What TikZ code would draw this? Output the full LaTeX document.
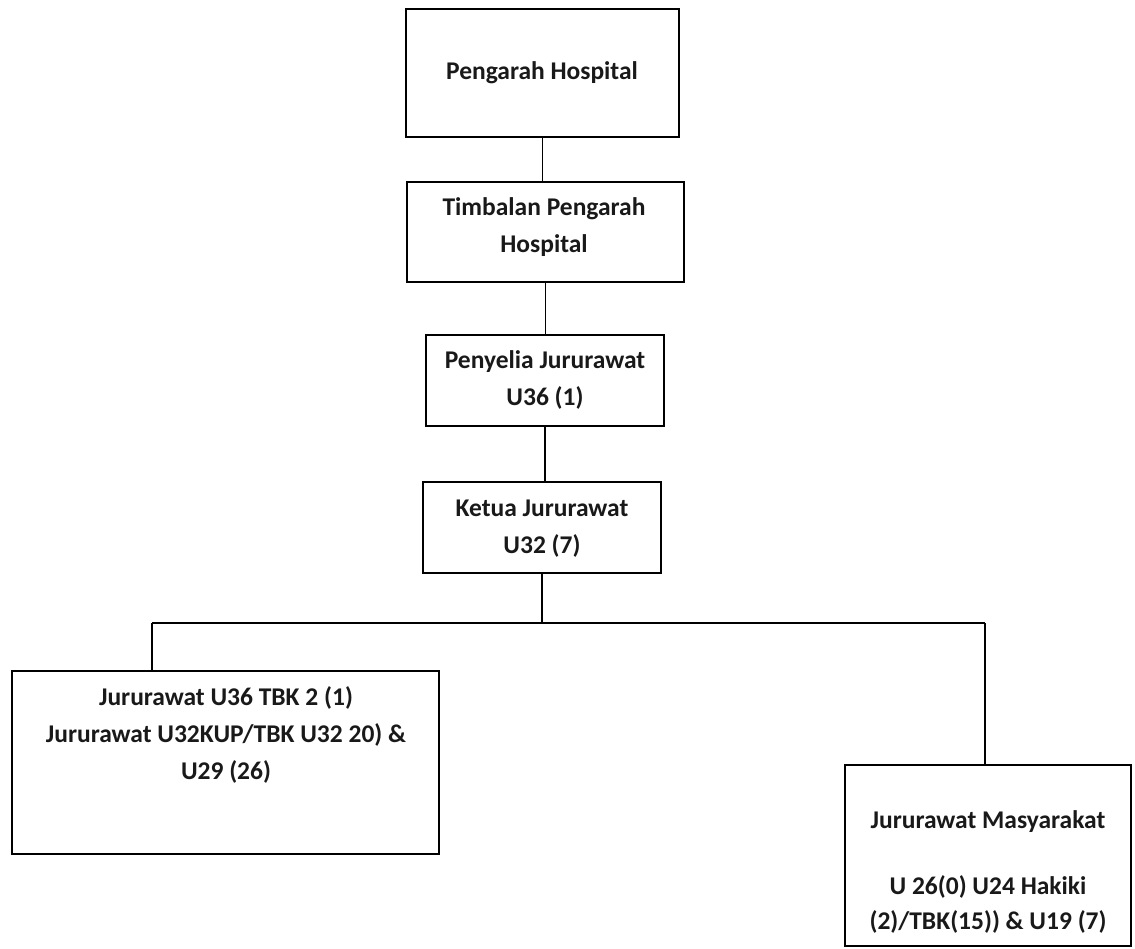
\documentclass[tikz,border=0pt]{standalone}
\usepackage{fontspec}
\setmainfont{Carlito}
\begin{document}
\begin{tikzpicture}[x=1pt,y=-1pt,
  box/.style={draw=black, line width=1.7pt, inner sep=0pt, rectangle},
  txt/.style={align=center, inner sep=0pt, font=\fontsize{25.5}{37}\selectfont\bfseries, text=black!90},
  con/.style={draw=black, line width=1.7pt}]
\useasboundingbox (0,0) rectangle (1135,948);
% boxes
\node[box, minimum width=273pt, minimum height=128pt] (b1) at (542.5,73) {};
\node[box, minimum width=277pt, minimum height=100pt] (b2) at (545.5,232) {};
\node[box, minimum width=238pt, minimum height=91pt] (b3) at (545,380.5) {};
\node[box, minimum width=238pt, minimum height=91pt] (b4) at (542,527.5) {};
\node[box, minimum width=427pt, minimum height=183pt] (L) at (225.5,762.5) {};
\node[box, minimum width=286pt, minimum height=181pt] (R) at (988,855.5) {};
% texts
\node[txt] (t1) at (542,73) {Pengarah Hospital};
\node[txt] (t2) at (544,227.5) {Timbalan Pengarah\\Hospital};
\node[txt] (t3) at (545,380) {Penyelia Jururawat\\U36 (1)};
\node[txt] (t4) at (542,528.5) {Ketua Jururawat\\U32 (7)};
\node[txt] (tL) at (226,735) {Jururawat U36 TBK 2 (1)\\Jururawat U32KUP/TBK U32 20) \&\\U29 (26)};
\node[txt] (tR1) at (988,822) {Jururawat Masyarakat};
\node[txt, font=\fontsize{25.5}{35}\selectfont\bfseries] (tR2) at (988,904.5) {U 26(0) U24 Hakiki\\(2)/TBK(15)) \& U19 (7)};
% connectors
\coordinate (lj) at (152,623);
\coordinate (rj) at (985,623);
\draw[con] (b1.south) -- (b1.south |- b2.north);
\draw[con] (b2.south) -- (b2.south |- b3.north);
\draw[con] (b3.south) -- (b3.south |- b4.north);
\draw[con] (b4.south) -- (b4.south |- lj);
\draw[con] (lj) -- (rj);
\draw[con] (lj) -- (lj |- L.north);
\draw[con] (rj) -- (rj |- R.north);
\end{tikzpicture}
\end{document}
